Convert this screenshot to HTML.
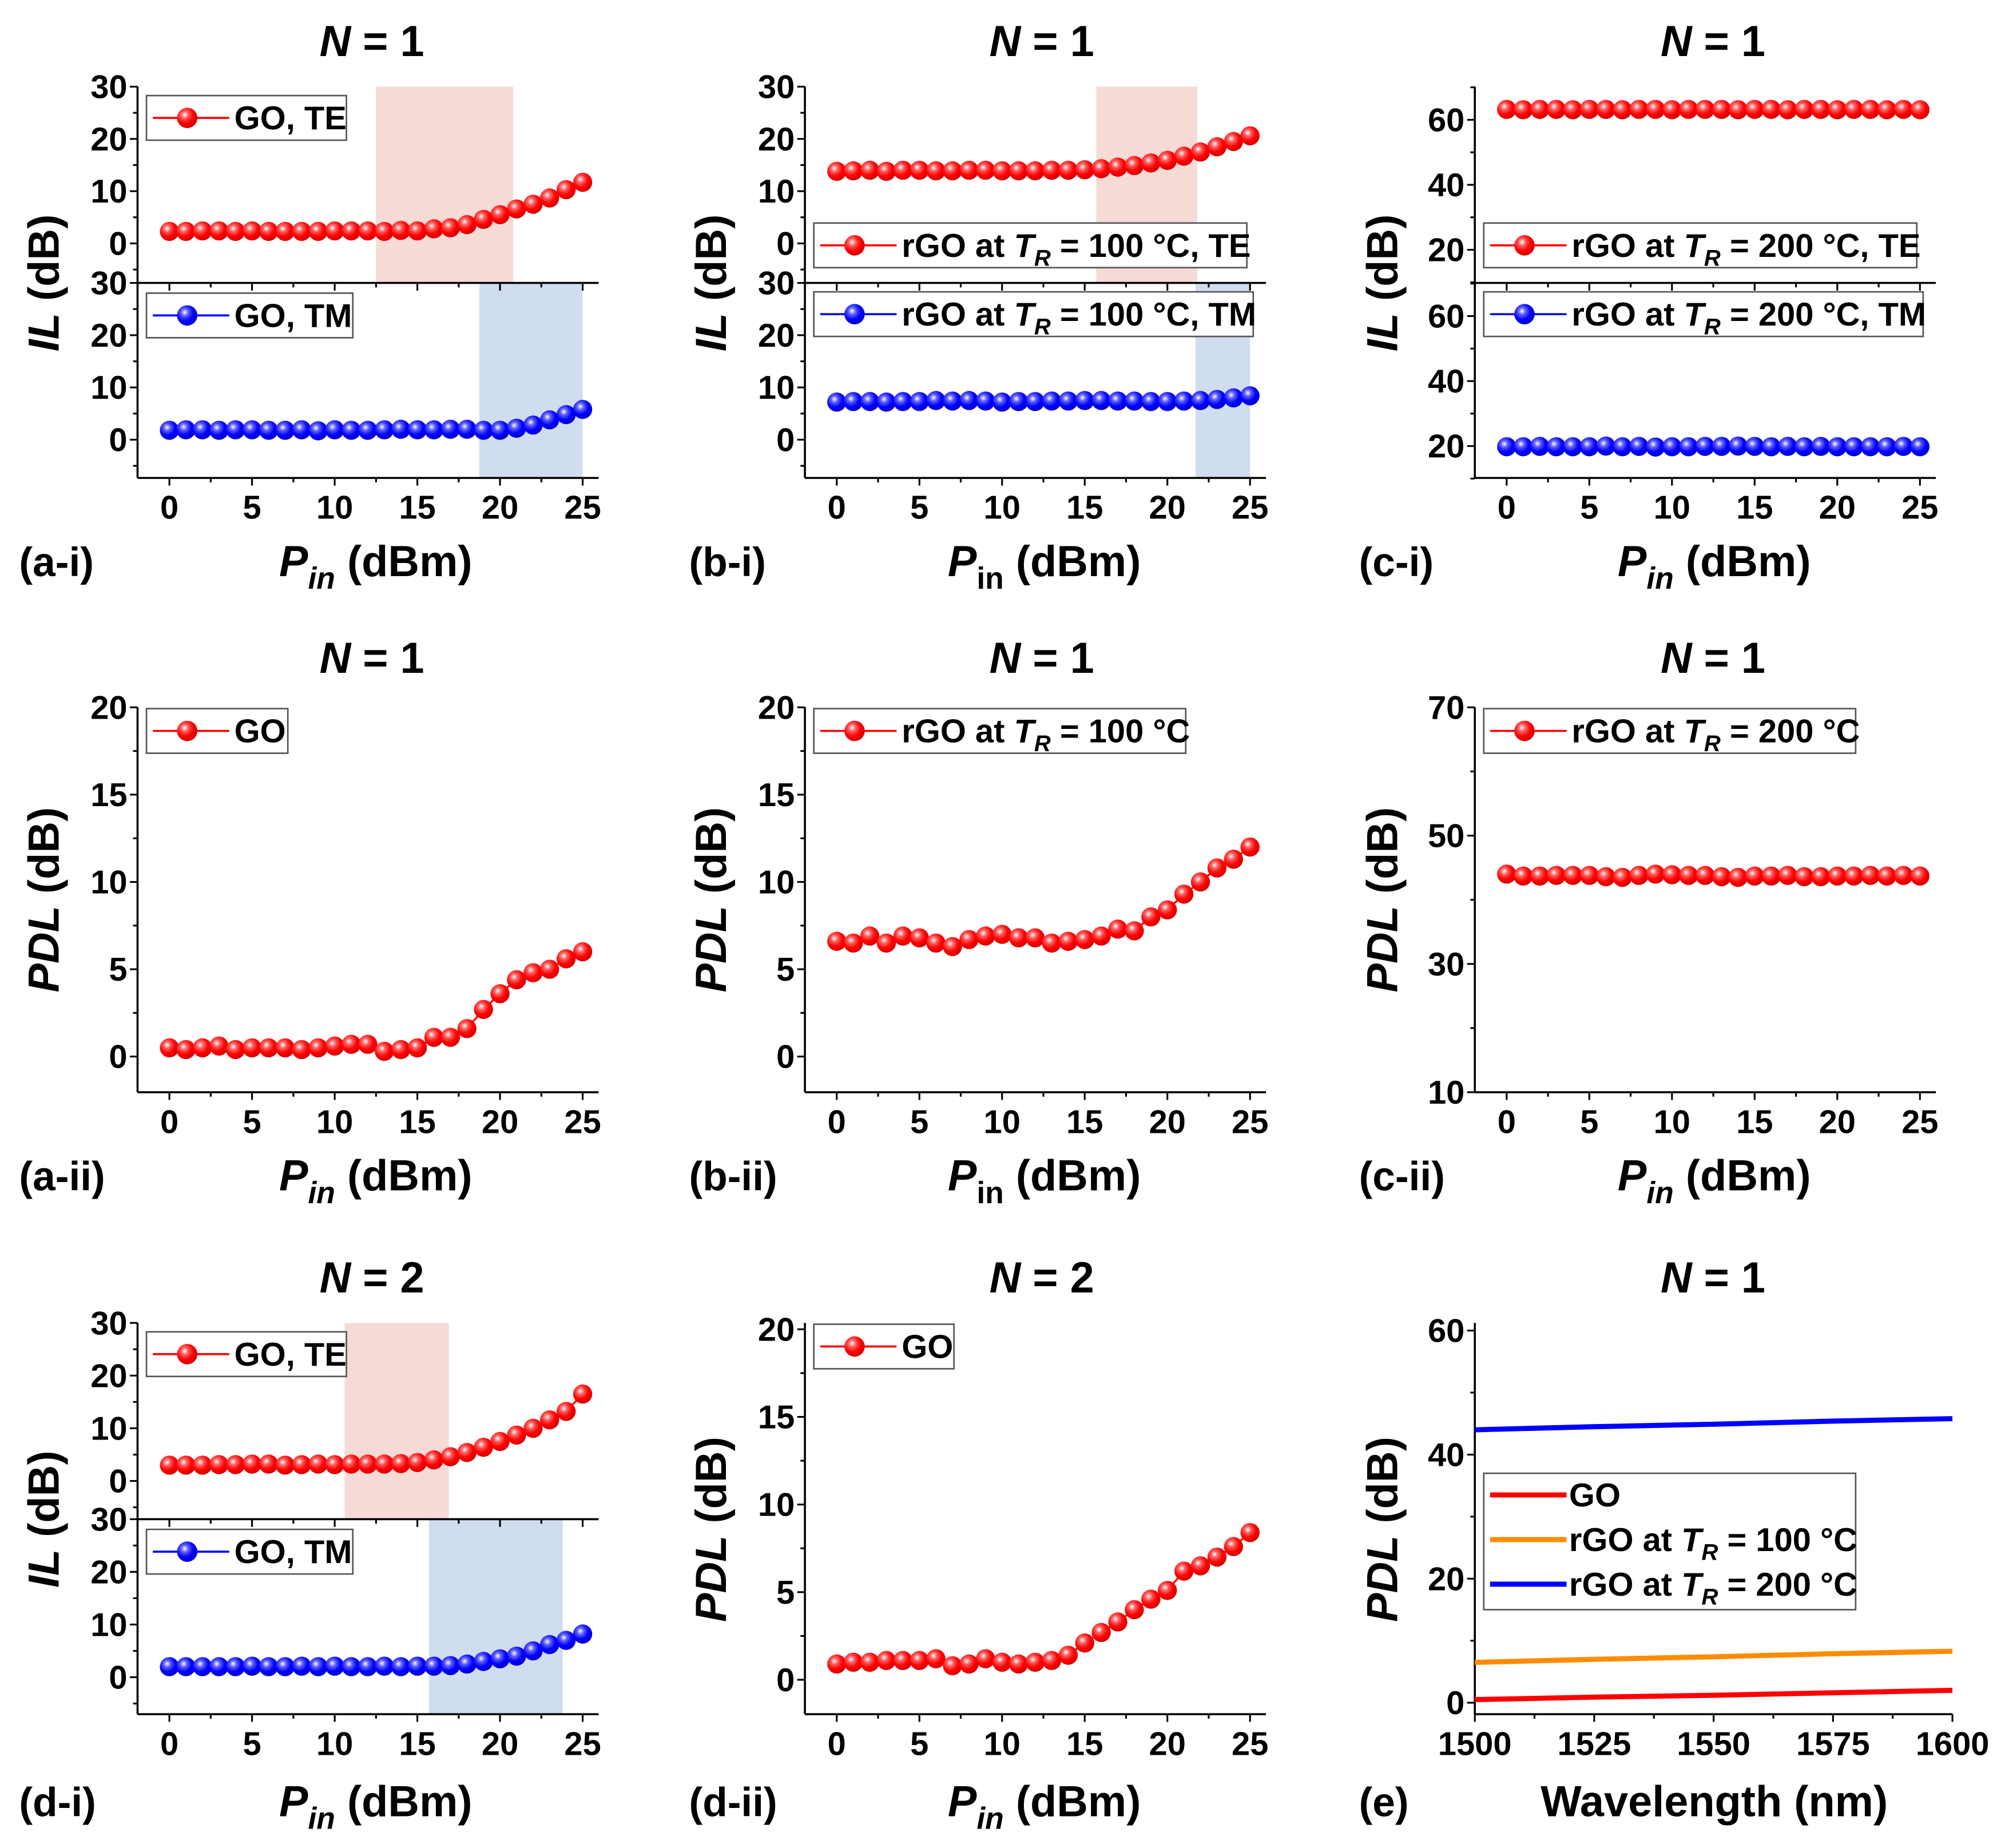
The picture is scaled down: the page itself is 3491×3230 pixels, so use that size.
<!DOCTYPE html>
<html><head><meta charset="utf-8"><style>
html,body{margin:0;padding:0;background:#fff;}
svg{display:block;}
text{font-family:"Liberation Sans",Arial,sans-serif;font-weight:bold;fill:#000;}
</style></head>
<body>
<svg id="fig" xmlns="http://www.w3.org/2000/svg" width="3491" height="3230" viewBox="0 0 1568 1450" preserveAspectRatio="none">
<defs>
<radialGradient id="gr" cx="0.38" cy="0.35" r="0.7"><stop offset="0" stop-color="#fff"/><stop offset="0.25" stop-color="#ff6060"/><stop offset="0.6" stop-color="#f00"/><stop offset="1" stop-color="#d00000"/></radialGradient>
<radialGradient id="gb" cx="0.38" cy="0.35" r="0.7"><stop offset="0" stop-color="#fff"/><stop offset="0.25" stop-color="#6060ff"/><stop offset="0.6" stop-color="#0000ff"/><stop offset="1" stop-color="#0000c8"/></radialGradient>
</defs>
</svg>
<script>
// ---------- data ----------
const pin = [0,1,2,3,4,5,6,7,8,9,10,11,12,13,14,15,16,17,18,19,20,21,22,23,24,25];
const aiTE = [2.3,2.3,2.4,2.4,2.3,2.4,2.3,2.3,2.3,2.3,2.4,2.4,2.4,2.3,2.5,2.4,2.8,3.0,3.6,4.6,5.5,6.6,7.5,8.7,10.3,11.7];
const aiTM = [1.8,1.9,1.9,1.8,1.9,1.9,1.8,1.8,1.9,1.7,1.9,1.8,1.8,1.9,2.0,1.9,1.9,2.0,2.0,1.8,1.8,2.2,2.8,3.8,4.8,5.8];
const biTE = [13.8,13.9,14.0,13.8,14.0,14.0,13.9,13.9,14.0,14.0,13.9,13.9,13.9,14.0,14.0,14.1,14.3,14.6,14.9,15.4,15.9,16.7,17.5,18.5,19.5,20.6];
const biTM = [7.2,7.3,7.3,7.2,7.3,7.3,7.5,7.4,7.5,7.4,7.2,7.3,7.3,7.4,7.4,7.5,7.5,7.4,7.4,7.3,7.3,7.4,7.5,7.7,8.0,8.4];
const ciTE = [63.2,63.1,63.2,63.2,63.1,63.2,63.2,63.1,63.2,63.2,63.1,63.2,63.2,63.2,63.1,63.2,63.2,63.1,63.2,63.2,63.1,63.2,63.2,63.1,63.2,63.1];
const ciTM = [19.8,19.8,19.9,19.8,19.8,19.8,20.0,19.8,19.9,19.7,19.8,19.8,19.9,19.9,20.0,19.9,19.8,19.9,19.8,19.9,19.8,19.8,19.8,19.8,19.9,19.8];
const aiiGO = [0.5,0.4,0.5,0.6,0.4,0.5,0.5,0.5,0.4,0.5,0.6,0.7,0.7,0.3,0.4,0.5,1.1,1.1,1.6,2.7,3.6,4.4,4.8,5.0,5.6,6.0];
const biiR100 = [6.6,6.5,6.9,6.5,6.9,6.8,6.5,6.3,6.7,6.9,7.0,6.8,6.8,6.5,6.6,6.7,6.9,7.3,7.2,8.0,8.4,9.3,10.0,10.8,11.3,12.0];
const ciiR200 = [44.0,43.7,43.7,43.8,43.8,43.8,43.6,43.5,43.8,44.0,43.9,43.8,43.8,43.6,43.5,43.7,43.7,43.8,43.6,43.6,43.7,43.7,43.8,43.7,43.8,43.7];
const diTE = [3.0,3.0,3.0,3.1,3.1,3.2,3.2,3.0,3.1,3.2,3.1,3.2,3.2,3.2,3.3,3.5,4.0,4.6,5.4,6.4,7.5,8.7,10.0,11.6,13.2,16.5];
const diTM = [2.0,2.0,2.0,2.0,2.0,2.1,2.0,2.0,2.1,2.0,2.1,2.0,2.0,2.1,2.0,2.1,2.1,2.2,2.5,3.0,3.5,4.0,5.0,6.2,7.0,8.2];
const diiGO = [0.9,1.0,1.0,1.1,1.1,1.1,1.2,0.8,0.9,1.2,1.0,0.9,1.0,1.1,1.4,2.1,2.7,3.3,4.0,4.6,5.1,6.2,6.5,7.0,7.6,8.4];
const eWl = [1500,1525,1550,1575,1600];
const eGO = [0.5,0.9,1.2,1.6,2.0];
const eR100 = [6.5,7.0,7.4,7.9,8.3];
const eR200 = [44.0,44.5,44.9,45.4,45.8];
const shadeAiTE = [12.5,20.8], shadeAiTM = [18.75,25];
const shadeBiTE = [15.7,21.8], shadeBiTM = [21.7,25];
const shadeDiTE = [10.6,16.9], shadeDiTM = [15.7,23.8];
const pinTicks = [0,5,10,15,20,25];
const ilTicks = [0,10,20,30];
const il200Ticks = [20,40,60];
const pdlTicks = [0,5,10,15,20];
const pdl200Ticks = [10,30,50,70];
const eXTicks = [1500,1525,1550,1575,1600];
const eYTicks = [0,20,40,60];

// ---------- helpers ----------
const NS = 'http://www.w3.org/2000/svg';
const svg = document.getElementById('fig');
function mk(tag, attrs, parent){ const e=document.createElementNS(NS,tag); for(const k in attrs) e.setAttribute(k,attrs[k]); (parent||svg).appendChild(e); return e; }
function lin(v0,p0,v1,p1){ return v=>p0+(v-v0)*(p1-p0)/(v1-v0); }

function axisY(x, yTop, yBot, Y, ticks, minorStep, name){
  const g = mk('g',{});
  
  
  const l = mk('line',{x1:x,y1:yTop,x2:x,y2:yBot,stroke:'#000','stroke-width':1.6},g);
  
  
  const lo = ticks[0]-minorStep*4, hi = ticks[ticks.length-1]+minorStep*4;
  for(let v=lo; v<=hi+1e-9; v+=minorStep){
    const y=Y(v); if(y<yTop-0.5||y>yBot+0.5) continue;
    const major = ticks.some(t=>Math.abs(t-v)<1e-6);
    const t = mk('line',{x1:x-(major?6:3.5),y1:y,x2:x,y2:y,stroke:'#000','stroke-width':1.4},g);
    
    
  }
  ticks.forEach(v=>{
    const tx = mk('text',{x:x-8,y:Y(v)+9,'text-anchor':'end','font-size':26},g);
    
    
    tx.textContent = v;
  });
}
function axisX(y, xL, xR, X, ticks, minorStep, labels, name){
  const g = mk('g',{});
  
  
  const l = mk('line',{x1:xL,y1:y,x2:xR,y2:y,stroke:'#000','stroke-width':1.6},g);
  
  
  for(let v=ticks[0]; v<=ticks[ticks.length-1]+1e-9; v+=minorStep){
    const major = ticks.some(t=>Math.abs(t-v)<1e-6);
    const t = mk('line',{x1:X(v),y1:y,x2:X(v),y2:y+(major?6:3.5),stroke:'#000','stroke-width':1.4},g);
    
    
  }
  if(labels) ticks.forEach(v=>{
    const tx = mk('text',{x:X(v),y:y+32,'text-anchor':'middle','font-size':26},g);
    
    
    tx.textContent = v;
  });
}
function series(xs, ys, X, Y, color, grad, name){
  const g = mk('g',{});
  
  
  const pl = mk('polyline',{points:xs.map((x,i)=>X(x)+','+Y(ys[i])).join(' '),fill:'none',stroke:color,'stroke-width':1.5},g);
  
  
  xs.forEach((x,i)=>{
    const c = mk('circle',{cx:X(x),cy:Y(ys[i]),r:7.5,fill:'url(#'+grad+')'},g);
    
    
  });
}
function shade(r, X, yTop, yBot, color, name){
  const s = mk('rect',{x:X(r[0]),y:yTop,width:X(r[1])-X(r[0]),height:yBot-yTop,fill:color});
  
  
}
function legend(x, y, w, h, entries, name, isLine){
  const g = mk('g',{});
  
  
  const b = mk('rect',{x:x,y:y,width:w,height:h,fill:'#fff',stroke:'#555','stroke-width':1.2},g);
  
  
  entries.forEach((en,i)=>{
    const cy = y + (isLine ? 17+i*35 : h/2);
    const ln = mk('line',{x1:x+5,y1:cy,x2:x+65,y2:cy,stroke:en.color,'stroke-width':isLine?4:1.6},g);
    
    
    if(!isLine){
      const c = mk('circle',{cx:x+32,cy:cy,r:8,fill:'url(#'+en.grad+')'},g);
      
      
    }
    const t = mk('text',{x:x+(isLine?67:69),y:cy+9,'font-size':26},g);
    
    
    t.innerHTML = en.label;
  });
}
function label(x,y,html,size,anchor,name,rot){
  const a = {x:x,y:y,'font-size':size,'text-anchor':anchor||'middle'};
  if(rot) a.transform='rotate(-90 '+x+' '+y+')';
  const t = mk('text',a);
  
  
  t.innerHTML = html;
}
const TR = (v)=>'rGO at <tspan font-style="italic">T</tspan><tspan font-style="italic" font-size="18" dy="7">R</tspan><tspan dy="-7"> = '+v+' °C</tspan>';
const PIN_IT = '<tspan font-style="italic">P</tspan><tspan font-style="italic" font-size="24" dy="10">in</tspan><tspan dy="-10"> (dBm)</tspan>';
const PIN_UP = '<tspan font-style="italic">P</tspan><tspan font-size="24" dy="10">in</tspan><tspan dy="-10"> (dBm)</tspan>';
const N1 = '<tspan font-style="italic">N</tspan> = 1', N2 = '<tspan font-style="italic">N</tspan> = 2';
const IL = '<tspan font-style="italic">IL</tspan> (dB)', PDL = '<tspan font-style="italic">PDL</tspan> (dB)';

const cols = [108, 632, 1158];
const RED='#ff0000', BLUE='#0000ff';

function splitPanel(ci, top, mid, bot, yUpper, yLower, yt, yMinor, te, tm, shTE, shTM, legTE, legTM, legW, prefix){
  const L = cols[ci], R = L+362, x0 = L+25;
  const X = lin(0,x0,25,x0+324.5);
  const Yu = lin(yUpper[0],yUpper[1],yUpper[2],yUpper[3]);
  const Yl = lin(yLower[0],yLower[1],yLower[2],yLower[3]);
  if(shTE) shade(shTE, X, top, mid, '#f6dad6', prefix+'-te-shade');
  if(shTM) shade(shTM, X, mid, bot, '#d0ddef', prefix+'-tm-shade');
  axisY(L, top, mid, Yu, yt, yMinor, prefix+'-te-y-axis');
  axisY(L, mid, bot, Yl, yt, yMinor, prefix+'-tm-y-axis');
  axisX(mid, L, R, X, pinTicks, 2.5, false, prefix+'-divider-axis');
  axisX(bot, L, R, X, pinTicks, 2.5, true, prefix+'-x-axis');
  legend(L+7, legTE, legW[0], 35, [{color:RED,grad:'gr',label:te.label}], prefix+'-te-legend');
  legend(L+7, legTM, legW[1], 35, [{color:BLUE,grad:'gb',label:tm.label}], prefix+'-tm-legend');
  series(pin, te.data, X, Yu, RED, 'gr', prefix+'-te-series');
  series(pin, tm.data, X, Yl, BLUE, 'gb', prefix+'-tm-series');
}
function singlePanel(ci, top, bot, ymap, yt, yMinor, data, legW, legLabel, prefix){
  const L = cols[ci], R = L+362, x0 = L+25;
  const X = lin(0,x0,25,x0+324.5);
  const Y = lin(ymap[0],ymap[1],ymap[2],ymap[3]);
  axisY(L, top, bot, Y, yt, yMinor, prefix+'-y-axis');
  axisX(bot, L, R, X, pinTicks, 2.5, true, prefix+'-x-axis');
  legend(L+7, top+1, legW, 35, [{color:RED,grad:'gr',label:legLabel}], prefix+'-legend');
  series(pin, data, X, Y, RED, 'gr', prefix+'-series');
}

splitPanel(0,68,222,375,[30,68,0,191],[30,222,0,345],ilTicks,5,{data:aiTE,label:'GO, TE'},{data:aiTM,label:'GO, TM'},shadeAiTE,shadeAiTM,75,230,[157,162],'a-i');
splitPanel(1,68,222,375,[30,68,0,191],[30,222,0,345],ilTicks,5,{data:biTE,label:TR(100)+', TE'},{data:biTM,label:TR(100)+', TM'},shadeBiTE,shadeBiTM,175,229,[340,345],'b-i');
splitPanel(2,68,222,375,[60,94,20,196],[60,248,20,350],il200Ticks,10,{data:ciTE,label:TR(200)+', TE'},{data:ciTM,label:TR(200)+', TM'},null,null,175,229,[340,345],'c-i');
singlePanel(0,555,857,[20,555,0,829],pdlTicks,2.5,aiiGO,111,'GO','a-ii');
singlePanel(1,555,857,[20,555,0,829],pdlTicks,2.5,biiR100,292,TR(100),'b-ii');
singlePanel(2,555,857,[70,555,10,857],pdl200Ticks,10,ciiR200,292,TR(200),'c-ii');
splitPanel(0,1038,1192,1345,[30,1038,0,1162],[30,1192,0,1316],ilTicks,5,{data:diTE,label:'GO, TE'},{data:diTM,label:'GO, TM'},shadeDiTE,shadeDiTM,1045,1200,[157,162],'d-i');
singlePanel(1,1038,1345,[20,1043,0,1318],pdlTicks,2.5,diiGO,110,'GO','d-ii');
(function(){
  const L = cols[2], R = 1533;
  const X = lin(1500,L,1600,R);
  const Y = lin(60,1044,0,1336);
  axisY(L, 1038, 1345, Y, eYTicks, 10, 'e-y-axis');
  axisX(1345, L, R, X, eXTicks, 12.5, true, 'e-x-axis');
  [[eGO,'#ff0000','e-go-line'],[eR100,'#ff8c00','e-rgo100-line'],[eR200,'#0000ff','e-rgo200-line']].forEach(s=>{
    const p = mk('polyline',{points:eWl.map((w,i)=>X(w)+','+Y(s[0][i])).join(' '),fill:'none',stroke:s[1],'stroke-width':4});
    
    
  });
  legend(1165, 1156, 292, 107, [{color:'#ff0000',label:'GO'},{color:'#ff8c00',label:TR(100)},{color:'#0000ff',label:TR(200)}], 'e-legend', true);
})();

const titleX = [292, 818, 1345];
[[32,[N1,N1,N1]],[516,[N1,N1,N1]],[1002,[N2,N2,N1]]].forEach(r=>{
  r[1].forEach((h,i)=>label(titleX[i], r[0]+12, h, 34, 'middle', 'panel-title'));
});
const ylx = [46, 570, 1097];
label(ylx[0],222,IL,34,'middle','y-axis-title',true);
label(ylx[1],222,IL,34,'middle','y-axis-title',true);
label(ylx[2],222,IL,34,'middle','y-axis-title',true);
label(ylx[0],706,PDL,34,'middle','y-axis-title',true);
label(ylx[1],706,PDL,34,'middle','y-axis-title',true);
label(ylx[2],706,PDL,34,'middle','y-axis-title',true);
label(ylx[0],1192,IL,34,'middle','y-axis-title',true);
label(ylx[1],1200,PDL,34,'middle','y-axis-title',true);
label(ylx[2],1200,PDL,34,'middle','y-axis-title',true);
const xlY = [452, 934, 1425];
label(295,xlY[0],PIN_IT,34,'middle','x-axis-title');
label(820,xlY[0],PIN_UP,34,'middle','x-axis-title');
label(1346,xlY[0],PIN_IT,34,'middle','x-axis-title');
label(295,xlY[1],PIN_IT,34,'middle','x-axis-title');
label(820,xlY[1],PIN_UP,34,'middle','x-axis-title');
label(1346,xlY[1],PIN_IT,34,'middle','x-axis-title');
label(295,xlY[2],PIN_IT,34,'middle','x-axis-title');
label(820,xlY[2],PIN_IT,34,'middle','x-axis-title');
label(1346,xlY[2],'Wavelength (nm)',34,'middle','x-axis-title');
[['(a-i)',15,452],['(b-i)',541,452],['(c-i)',1067,452],['(a-ii)',15,934],['(b-ii)',541,934],['(c-ii)',1067,934],['(d-i)',15,1425],['(d-ii)',541,1425],['(e)',1067,1425]].forEach(p=>{
  label(p[1],p[2],p[0],32,'start','panel-label');
});
</script>
</body></html>
